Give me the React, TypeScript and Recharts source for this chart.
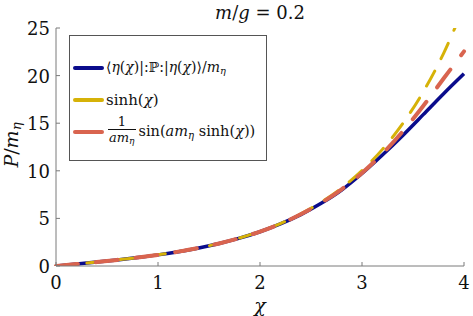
import { Legend, Line, LineChart, XAxis, YAxis } from 'recharts'

const chi = [0, 0.2, 0.4, 0.6, 0.8, 1, 1.2, 1.4, 1.6, 1.8, 2, 2.2, 2.4, 2.6, 2.8, 3, 3.2, 3.4, 3.6, 3.8, 4]
const expectation = [0, 0.2, 0.41, 0.64, 0.89, 1.17, 1.5, 1.9, 2.37, 2.93, 3.6, 4.42, 5.4, 6.58, 7.98, 9.72, 11.66, 13.72, 15.9, 18.1, 20.2]
const sinhChi = [0, 0.2, 0.41, 0.64, 0.89, 1.18, 1.51, 1.9, 2.38, 2.94, 3.63, 4.46, 5.47, 6.7, 8.19, 10.02, 12.25, 14.97, 18.29, 22.34, 27.29]
const latticeSin = [0, 0.2, 0.41, 0.64, 0.89, 1.17, 1.51, 1.9, 2.37, 2.93, 3.61, 4.43, 5.43, 6.62, 8.06, 9.77, 11.8, 14.15, 16.81, 19.69, 22.54]

const xTicks = [0, 1, 2, 3, 4]
const yTicks = [0, 5, 10, 15, 20, 25]

const data = chi.map((x, i) => ({
   x,
   blue: expectation[i],
   yellow: sinhChi[i],
   red: latticeSin[i],
}))

const SERIF = "'DejaVu Serif', 'Liberation Serif', serif"
const AXIS = '#7a7a7a'
const BLUE = '#0a0c8c'
const YELLOW = '#d6b208'
const RED = '#d9644f'

const XTick = ({ x, y, payload }: any) => (
   <g>
      <line x1={x} y1={y} x2={x} y2={y - 4} stroke={AXIS} />
      <text x={x} y={y + 23} textAnchor="middle" fontFamily={SERIF} fontSize={18} fill="#111">
         {payload.value}
      </text>
   </g>
)

const YTick = ({ x, y, payload }: any) => (
   <g>
      <line x1={x} y1={y} x2={x + 4} y2={y} stroke={AXIS} />
      <text x={x - 6} y={y + 7} textAnchor="end" fontFamily={SERIF} fontSize={18} fill="#111">
         {payload.value}
      </text>
   </g>
)

const Sub = ({ children }: any) => (
   <span style={{ fontSize: '0.7em', fontStyle: 'italic', verticalAlign: '-0.25em' }}>{children}</span>
)

const I = ({ children }: any) => <span style={{ fontStyle: 'italic' }}>{children}</span>

const Swatch = ({ color }: { color: string }) => (
   <span
      style={{
         display: 'inline-block',
         width: 31,
         height: 4,
         borderRadius: 2,
         background: color,
         marginLeft: 3,
         marginRight: 2,
         flexShrink: 0,
      }}
   />
)

const row = { display: 'flex', alignItems: 'center', height: 32, whiteSpace: 'nowrap' as const }

const LegendBox = () => (
   <div
      style={{
         width: 198,
         height: 126,
         border: '1px solid #555',
         background: '#fff',
         fontFamily: SERIF,
         fontSize: 14,
         color: '#111',
         paddingTop: 16,
         boxSizing: 'border-box',
      }}
   >
      <div style={row}>
         <Swatch color={BLUE} />
         <span>
            ⟨<I>η</I>(<I>χ</I>)|:ℙ:|<I>η</I>(<I>χ</I>)⟩/<I>m</I>
            <Sub>η</Sub>
         </span>
      </div>
      <div style={row}>
         <Swatch color={YELLOW} />
         <span style={{ fontSize: 15 }}>
            sinh(<I>χ</I>)
         </span>
      </div>
      <div style={row}>
         <Swatch color={RED} />
         <span
            style={{
               display: 'inline-flex',
               flexDirection: 'column',
               alignItems: 'center',
               fontSize: 13,
               lineHeight: '14px',
               marginLeft: 2,
               marginRight: 3,
            }}
         >
            <span>1</span>
            <span style={{ borderTop: '1px solid #111', padding: '1px 1px 0' }}>
               <I>am</I>
               <Sub>η</Sub>
            </span>
         </span>
         <span style={{ fontSize: 14.5 }}>
            sin(<I>am</I>
            <Sub>η</Sub> sinh(<I>χ</I>))
         </span>
      </div>
   </div>
)

export default function App() {
   return (
      <div style={{ position: 'absolute', left: 0, top: 0, width: 473, height: 316, background: '#fff' }}>
         <LineChart width={473} height={316} data={data} margin={{ top: 28, right: 9, bottom: 20, left: 16 }}>
            <XAxis
               dataKey="x"
               type="number"
               domain={[0, 4]}
               ticks={xTicks}
               height={30}
               tickSize={0}
               tickMargin={0}
               tickLine={false}
               stroke={AXIS}
               tick={<XTick />}
               interval={0}
            />
            <YAxis
               type="number"
               domain={[0, 25]}
               ticks={yTicks}
               width={40}
               tickSize={0}
               tickMargin={0}
               tickLine={false}
               stroke={AXIS}
               tick={<YTick />}
               interval={0}
               allowDataOverflow
            />
            <Line
               dataKey="blue"
               type="monotone"
               stroke={BLUE}
               strokeWidth={3.5}
               dot={false}
               isAnimationActive={false}
            />
            <Line
               dataKey="yellow"
               type="monotone"
               stroke={YELLOW}
               strokeWidth={3}
               strokeDasharray="17 14"
               strokeLinecap="round"
               dot={false}
               isAnimationActive={false}
            />
            <Line
               dataKey="red"
               type="monotone"
               stroke={RED}
               strokeWidth={4}
               strokeDasharray="22 18"
               strokeLinecap="round"
               dot={false}
               isAnimationActive={false}
            />
            <Legend
               layout="horizontal"
               align="center"
               verticalAlign="middle"
               content={<LegendBox />}
               wrapperStyle={{ left: 69, top: 35, width: 198, height: 126 }}
            />
         </LineChart>
         <div
            style={{
               position: 'absolute',
               left: 160,
               width: 200,
               top: 2,
               textAlign: 'center',
               fontFamily: SERIF,
               fontSize: 18,
               color: '#111',
            }}
         >
            <I>m</I>/<I>g</I> = 0.2
         </div>
         <div
            style={{
               position: 'absolute',
               left: 210,
               width: 100,
               top: 294,
               textAlign: 'center',
               fontFamily: SERIF,
               fontSize: 19,
               color: '#111',
            }}
         >
            <I>χ</I>
         </div>
         <div
            style={{
               position: 'absolute',
               left: 12,
               top: 145,
               transform: 'translate(-50%, -50%) rotate(-90deg)',
               fontFamily: SERIF,
               fontSize: 19,
               color: '#111',
               whiteSpace: 'nowrap',
            }}
         >
            <I>P</I>/<I>m</I>
            <Sub>η</Sub>
         </div>
      </div>
   )
}
